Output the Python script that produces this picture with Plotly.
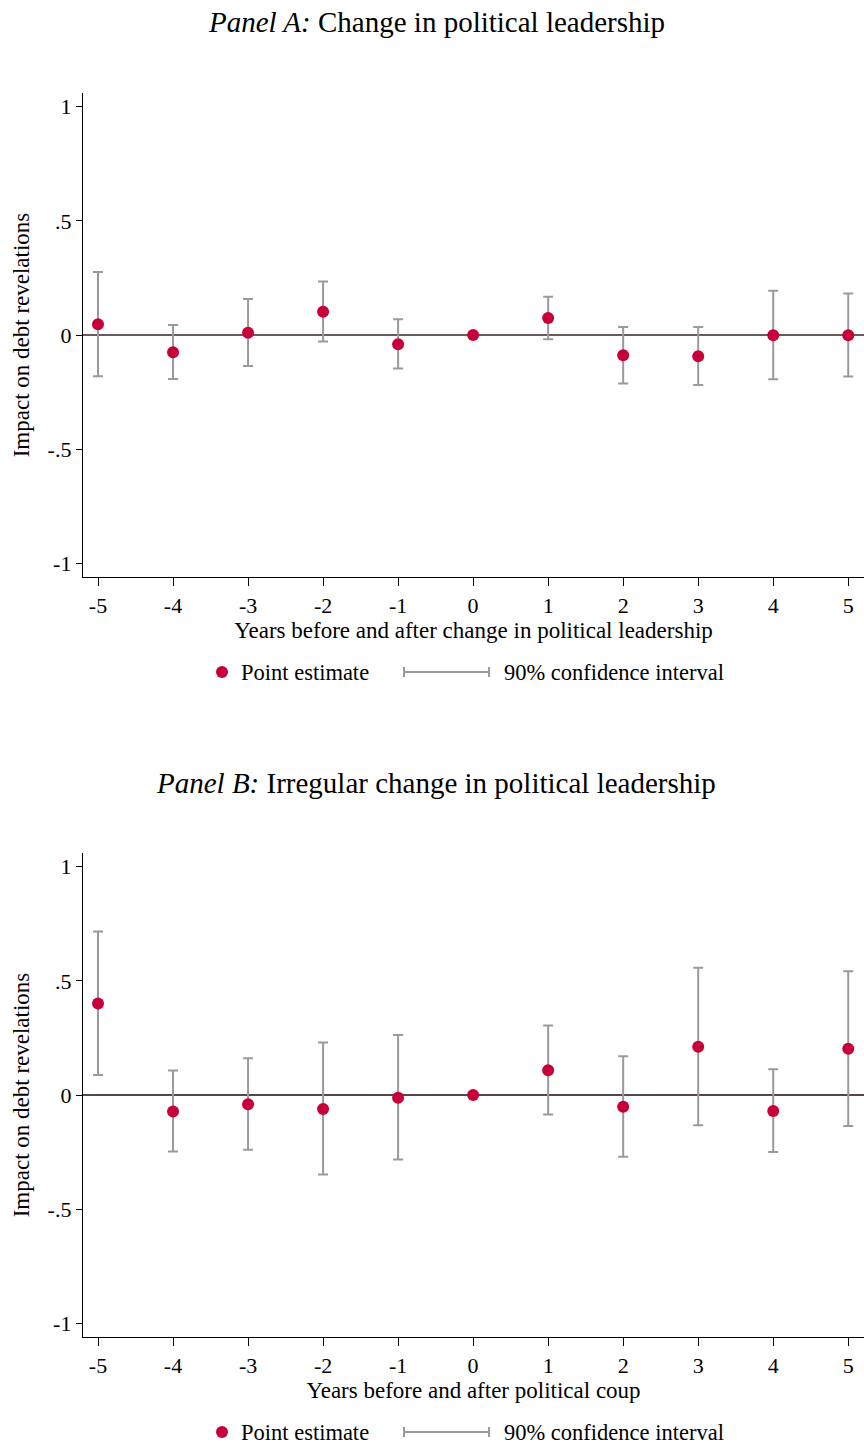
import plotly.graph_objects as go

years = [-5, -4, -3, -2, -1, 0, 1, 2, 3, 4, 5]
tick_labels_x = ["-5", "-4", "-3", "-2", "-1", "0", "1", "2", "3", "4", "5"]
ytick_vals = [1, 0.5, 0, -0.5, -1]
ytick_text = ["1", ".5", "0", "-.5", "-1"]

# Panel A: change in political leadership
a_est = [0.047, -0.076, 0.010, 0.102, -0.041, 0.0, 0.074, -0.089, -0.093, -0.001, -0.001]
a_hi = [0.276, 0.044, 0.158, 0.234, 0.069, 0.0, 0.168, 0.035, 0.035, 0.194, 0.182]
a_lo = [-0.181, -0.193, -0.136, -0.028, -0.147, 0.0, -0.019, -0.212, -0.219, -0.194, -0.182]

# Panel B: irregular change in political leadership
b_est = [0.401, -0.072, -0.041, -0.061, -0.012, 0.0, 0.108, -0.051, 0.211, -0.070, 0.203]
b_hi = [0.716, 0.107, 0.161, 0.230, 0.263, 0.0, 0.304, 0.170, 0.557, 0.113, 0.542]
b_lo = [0.088, -0.247, -0.240, -0.348, -0.282, 0.0, -0.085, -0.270, -0.133, -0.250, -0.136]

W, H = 864, 1445
RED = "#c8003a"
GREY = "#9a9a9a"
FONT = "Liberation Serif"
FS = 22
FT = 23

fig = go.Figure()

def add_panel(est, hi, lo, xa, ya):
    ci_x = [x for x, h, l in zip(years, hi, lo) if h != l]
    ci_mid = [e for e, h, l in zip(est, hi, lo) if h != l]
    ci_up = [h - e for e, h, l in zip(est, hi, lo) if h != l]
    ci_dn = [e - l for e, h, l in zip(est, hi, lo) if h != l]
    fig.add_trace(go.Scatter(
        x=ci_x, y=ci_mid, mode="markers", marker=dict(size=1, opacity=0),
        error_y=dict(type="data", symmetric=False, array=ci_up, arrayminus=ci_dn,
                     color=GREY, thickness=2, width=5),
        xaxis=xa, yaxis=ya, showlegend=False, hoverinfo="skip", cliponaxis=False))
    fig.add_trace(go.Scatter(
        x=years, y=est, mode="markers",
        marker=dict(size=12, color=RED),
        xaxis=xa, yaxis=ya, showlegend=False, cliponaxis=False))

add_panel(a_est, a_hi, a_lo, "x", "y")
add_panel(b_est, b_hi, b_lo, "x2", "y2")

def py(p):
    return 1 - p / H

def px(p):
    return p / W

axis_common_x = dict(range=[-5.2, 5.21], tickvals=years, ticktext=tick_labels_x,
                     ticks="outside", ticklen=8, tickwidth=1, tickcolor="black",
                     showline=True, linecolor="black", linewidth=1.3,
                     showgrid=False, zeroline=False,
                     tickfont=dict(family=FONT, size=FS, color="black"))
axis_common_y = dict(range=[-1.06, 1.06], tickvals=ytick_vals, ticktext=ytick_text,
                     ticks="outside", ticklen=6, tickwidth=1, tickcolor="black",
                     showline=True, linecolor="black", linewidth=1.3,
                     showgrid=False, zeroline=False,
                     tickfont=dict(family=FONT, size=FS, color="black"))

fig.update_layout(
    width=W, height=H,
    margin=dict(l=0, r=0, t=0, b=0),
    paper_bgcolor="white", plot_bgcolor="white",
    font=dict(family=FONT, color="black"),
    xaxis=dict(axis_common_x, domain=[px(83), 1.0], anchor="y",
               title=dict(text="Years before and after change in political leadership",
                          font=dict(family=FONT, size=FT), standoff=0)),
    yaxis=dict(axis_common_y, domain=[py(577), py(93)], anchor="x",
               title=dict(text="Impact on debt revelations",
                          font=dict(family=FONT, size=FT), standoff=11)),
    xaxis2=dict(axis_common_x, domain=[px(83), 1.0], anchor="y2",
                title=dict(text="Years before and after political coup",
                           font=dict(family=FONT, size=FT), standoff=0)),
    yaxis2=dict(axis_common_y, domain=[py(1337), py(853)], anchor="x2",
                title=dict(text="Impact on debt revelations",
                           font=dict(family=FONT, size=FT), standoff=11)),
)

shapes = []
annotations = []

# zero lines
shapes.append(dict(type="line", xref="x domain", yref="y", x0=0, x1=1, y0=0, y1=0,
                   line=dict(color="#3a2228", width=1.5), layer="below"))
shapes.append(dict(type="line", xref="x2 domain", yref="y2", x0=0, x1=1, y0=0, y1=0,
                   line=dict(color="#1a0a0c", width=1.5), layer="below"))

# titles
annotations.append(dict(text="<i>Panel A:</i> Change in political leadership",
                        xref="paper", yref="paper", x=px(436), y=py(22),
                        xanchor="center", yanchor="middle", showarrow=False,
                        font=dict(family=FONT, size=29, color="black")))
annotations.append(dict(text="<i>Panel B:</i> Irregular change in political leadership",
                        xref="paper", yref="paper", x=px(436), y=py(783),
                        xanchor="center", yanchor="middle", showarrow=False,
                        font=dict(family=FONT, size=29, color="black")))

# legends
for ly in (672, 1432):
    shapes.append(dict(type="circle", xref="paper", yref="paper",
                       x0=px(216), x1=px(228), y0=py(ly + 6), y1=py(ly - 6),
                       fillcolor=RED, line=dict(color=RED, width=0)))
    annotations.append(dict(text="Point estimate", xref="paper", yref="paper",
                            x=px(239), y=py(ly), xanchor="left", yanchor="middle",
                            showarrow=False, font=dict(family=FONT, size=22.5, color="black")))
    shapes.append(dict(type="line", xref="paper", yref="paper",
                       x0=px(404), x1=px(489), y0=py(ly), y1=py(ly),
                       line=dict(color=GREY, width=2)))
    for cx in (404, 489):
        shapes.append(dict(type="line", xref="paper", yref="paper",
                           x0=px(cx), x1=px(cx), y0=py(ly - 5), y1=py(ly + 5),
                           line=dict(color=GREY, width=2)))
    annotations.append(dict(text="90% confidence interval", xref="paper", yref="paper",
                            x=px(502), y=py(ly), xanchor="left", yanchor="middle",
                            showarrow=False, font=dict(family=FONT, size=22.5, color="black")))

fig.update_layout(shapes=shapes, annotations=annotations)

fig.write_html("out.html", config={"displayModeBar": False},
               post_script="document.body.style.margin='0';document.body.style.overflow='hidden';")
